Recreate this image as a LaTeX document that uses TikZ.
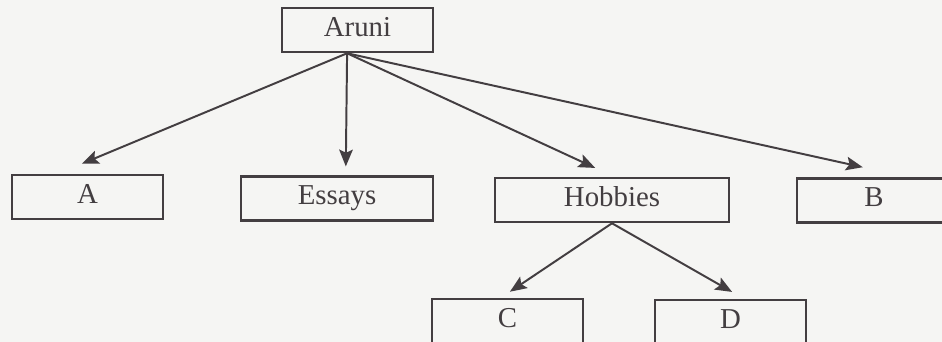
\documentclass[tikz,border=0pt]{standalone}
\usepackage{fontspec}
\setmainfont{Liberation Serif}
\usepackage{xcolor}
\usepackage{tikz}
\usetikzlibrary{arrows.meta}
\definecolor{ink}{HTML}{433E41}
\definecolor{paper}{HTML}{F5F5F3}

\begin{document}
\begin{tikzpicture}[x=0.025cm, y=-0.025cm,
  box/.style={draw=ink, line width=1.8pt, text=ink, minimum height=1.1cm, inner sep=0pt, text height=13.5pt, text depth=4.5pt, font=\fontsize{20.5}{24}\selectfont},
  arr/.style={-{Stealth[length=0.42cm, width=0.34cm, inset=0.08cm]}, draw=ink, line width=1.4pt}]
%%%%% Page %%%%%
\fill[paper] (0,0) rectangle (942,342);
\useasboundingbox (0,0) rectangle (942,342);
%%%%% Boxes %%%%%
\node[box, minimum width=3.78cm] (aruni) at (357.5,30) {Aruni};
\node[box, minimum width=3.78cm] (a) at (87.5,197) {A};
\node[box, minimum width=4.8cm] (essays) at (337,198.5) {Essays};
\node[box, minimum width=5.85cm] (hobbies) at (612,200) {Hobbies};
\node[box, minimum width=3.85cm] (b) at (874,200.5) {B};
\node[box, minimum width=3.78cm] (c) at (507.5,321) {C};
\node[box, minimum width=3.78cm] (d) at (730.5,322) {D};
%%%%% Arrows %%%%%
\coordinate (top) at ([xshift=-0.26cm]aruni.south);
\draw[arr] (top) -- ([xshift=-0.14cm,yshift=0.25cm]a.north);
\draw[arr] (top) -- ([xshift=0.22cm,yshift=0.22cm]essays.north);
\draw[arr] (top) -- ([xshift=-0.42cm,yshift=0.22cm]hobbies.north);
\draw[arr] (top) -- ([xshift=-0.28cm,yshift=0.25cm]b.north);
\draw[arr] (hobbies.south) -- ([xshift=0.06cm,yshift=0.15cm]c.north);
\draw[arr] (hobbies.south) -- ([xshift=0.04cm,yshift=0.17cm]d.north);
\end{tikzpicture}
\end{document}
